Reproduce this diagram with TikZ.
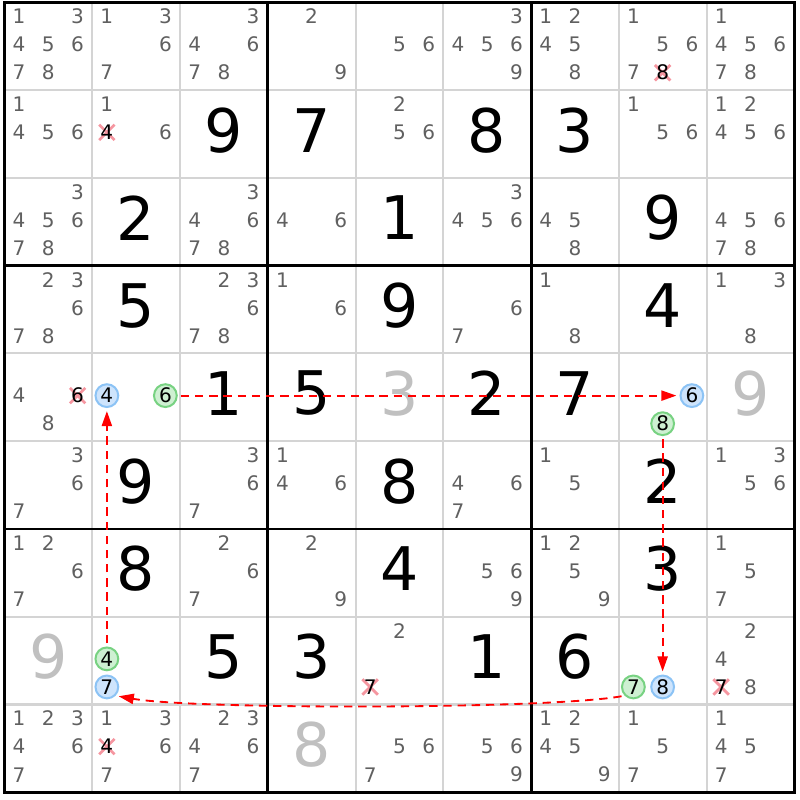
\documentclass[tikz,border=0pt]{standalone}
\usepackage{fontspec}
\setmainfont{DejaVu Sans}
\usetikzlibrary{arrows.meta}

\definecolor{candgray}{RGB}{96,96,96}
\definecolor{solvedgray}{RGB}{192,192,192}
\definecolor{gridgray}{RGB}{212,212,212}
\definecolor{crosspink}{RGB}{245,150,160}
\definecolor{onfill}{RGB}{206,228,252}
\definecolor{ondraw}{RGB}{140,195,245}
\definecolor{offfill}{RGB}{206,240,210}
\definecolor{offdraw}{RGB}{120,210,130}
\definecolor{linkred}{RGB}{255,0,0}

\tikzset{
  thingrid/.style={gridgray, line width=0.65pt},
  thickgrid/.style={black, line width=0.97pt},
  cand/.style={text=candgray, inner sep=0pt, font=\fontsize{6.5}{7}\selectfont},
  given/.style={inner sep=0pt, font=\fontsize{19.5}{22}\selectfont},
  solved/.style={given, text=solvedgray},
  elim/.style={text=black, minimum size=0.26cm,
    path picture={\draw[crosspink, line width=0.9pt]
      (path picture bounding box.center) ++(-0.088,-0.088) -- ++(0.176,0.176)
      (path picture bounding box.center) ++(-0.088,0.088) -- ++(0.176,-0.176);}},
  oncand/.style={circle, text=black, minimum size=0.26cm, fill=onfill, draw=ondraw, line width=0.65pt},
  offcand/.style={circle, text=black, minimum size=0.26cm, fill=offfill, draw=offdraw, line width=0.65pt},
  link/.style={draw=linkred, line width=0.6pt, dash pattern=on 2.7pt off 1.9pt,
    -{Triangle[length=4.9pt,width=3.3pt,fill=linkred]}, shorten <=1pt, shorten >=1pt}
}

% candidates of cell (row, column)
\newcommand{\cands}[4][]{%
  \foreach \d in {#4}{%
    \pgfmathsetmacro{\candx}{#3-1+1/6+mod(\d-1,3)/3}%
    \pgfmathsetmacro{\candy}{10-#2-0.16-0.32*floor((\d-1)/3)}%
    \node[cand,#1] (r#2c#3d\d) at (\candx,\candy) {\d};}}

\begin{document}
\begin{tikzpicture}
\useasboundingbox (-0.0513,-0.088) rectangle (9.0655,9.0285);

\draw[thingrid] (1,0) -- (1,9);
\draw[thingrid] (2,0) -- (2,9);
\draw[thingrid] (4,0) -- (4,9);
\draw[thingrid] (5,0) -- (5,9);
\draw[thingrid] (7,0) -- (7,9);
\draw[thingrid] (8,0) -- (8,9);
\draw[thingrid] (0,1) -- (9,1);
\draw[thingrid] (0,2) -- (9,2);
\draw[thingrid] (0,4) -- (9,4);
\draw[thingrid] (0,5) -- (9,5);
\draw[thingrid] (0,7) -- (9,7);
\draw[thingrid] (0,8) -- (9,8);

\draw[thickgrid] (3,0) -- (3,9);
\draw[thickgrid] (6,0) -- (6,9);
\draw[thickgrid] (0,3) -- (9,3);
\draw[thickgrid] (0,6) -- (9,6);
\draw[thickgrid] (0,0) rectangle (9,9);

% givens
\node[given] (r2c3) at (2.5,7.545) {9};
\node[given] (r2c4) at (3.5,7.545) {7};
\node[given] (r2c6) at (5.5,7.545) {8};
\node[given] (r2c7) at (6.5,7.545) {3};
\node[given] (r3c2) at (1.5,6.545) {2};
\node[given] (r3c5) at (4.5,6.545) {1};
\node[given] (r3c8) at (7.5,6.545) {9};
\node[given] (r4c2) at (1.5,5.545) {5};
\node[given] (r4c5) at (4.5,5.545) {9};
\node[given] (r4c8) at (7.5,5.545) {4};
\node[given] (r5c3) at (2.5,4.545) {1};
\node[given] (r5c4) at (3.5,4.545) {5};
\node[solved] (r5c5) at (4.5,4.545) {3};
\node[given] (r5c6) at (5.5,4.545) {2};
\node[given] (r5c7) at (6.5,4.545) {7};
\node[solved] (r5c9) at (8.5,4.545) {9};
\node[given] (r6c2) at (1.5,3.545) {9};
\node[given] (r6c5) at (4.5,3.545) {8};
\node[given] (r6c8) at (7.5,3.545) {2};
\node[given] (r7c2) at (1.5,2.545) {8};
\node[given] (r7c5) at (4.5,2.545) {4};
\node[given] (r7c8) at (7.5,2.545) {3};
\node[solved] (r8c1) at (0.5,1.545) {9};
\node[given] (r8c3) at (2.5,1.545) {5};
\node[given] (r8c4) at (3.5,1.545) {3};
\node[given] (r8c6) at (5.5,1.545) {1};
\node[given] (r8c7) at (6.5,1.545) {6};
\node[solved] (r9c4) at (3.5,0.545) {8};

% candidates
\cands{1}{1}{1,3,4,5,6,7,8}
\cands{1}{2}{1,3,6,7}
\cands{1}{3}{3,4,6,7,8}
\cands{1}{4}{2,9}
\cands{1}{5}{5,6}
\cands{1}{6}{3,4,5,6,9}
\cands{1}{7}{1,2,4,5,8}
\cands{1}{8}{1,5,6,7}
\cands[elim]{1}{8}{8}
\cands{1}{9}{1,4,5,6,7,8}

\cands{2}{1}{1,4,5,6}
\cands{2}{2}{1,6}
\cands[elim]{2}{2}{4}
\cands{2}{5}{2,5,6}
\cands{2}{8}{1,5,6}
\cands{2}{9}{1,2,4,5,6}

\cands{3}{1}{3,4,5,6,7,8}
\cands{3}{3}{3,4,6,7,8}
\cands{3}{4}{4,6}
\cands{3}{6}{3,4,5,6}
\cands{3}{7}{4,5,8}
\cands{3}{9}{4,5,6,7,8}

\cands{4}{1}{2,3,6,7,8}
\cands{4}{3}{2,3,6,7,8}
\cands{4}{4}{1,6}
\cands{4}{6}{6,7}
\cands{4}{7}{1,8}
\cands{4}{9}{1,3,8}

\cands{5}{1}{4,8}
\cands[elim]{5}{1}{6}
\cands[oncand]{5}{2}{4}
\cands[offcand]{5}{2}{6}
\cands[oncand]{5}{8}{6}
\cands[offcand]{5}{8}{8}

\cands{6}{1}{3,6,7}
\cands{6}{3}{3,6,7}
\cands{6}{4}{1,4,6}
\cands{6}{6}{4,6,7}
\cands{6}{7}{1,5}
\cands{6}{9}{1,3,5,6}

\cands{7}{1}{1,2,6,7}
\cands{7}{3}{2,6,7}
\cands{7}{4}{2,9}
\cands{7}{6}{5,6,9}
\cands{7}{7}{1,2,5,9}
\cands{7}{9}{1,5,7}

\cands[offcand]{8}{2}{4}
\cands[oncand]{8}{2}{7}
\cands{8}{5}{2}
\cands[elim]{8}{5}{7}
\cands[offcand]{8}{8}{7}
\cands[oncand]{8}{8}{8}
\cands{8}{9}{2,4,8}
\cands[elim]{8}{9}{7}

\cands{9}{1}{1,2,3,4,6,7}
\cands{9}{2}{1,3,6,7}
\cands[elim]{9}{2}{4}
\cands{9}{3}{2,3,4,6,7}
\cands{9}{5}{5,6,7}
\cands{9}{6}{5,6,9}
\cands{9}{7}{1,2,4,5,9}
\cands{9}{8}{1,5,7}
\cands{9}{9}{1,4,5,7}

% chain
\draw[link] (r8c2d4) -- (r5c2d4);
\draw[link] (r5c2d6) -- (r5c8d6);
\draw[link] (r5c8d8) -- (r8c8d8);
\draw[link] (r8c8d7.225) to[out=190,in=-10,looseness=0.4] (r8c2d7.-45);
\end{tikzpicture}
\end{document}
